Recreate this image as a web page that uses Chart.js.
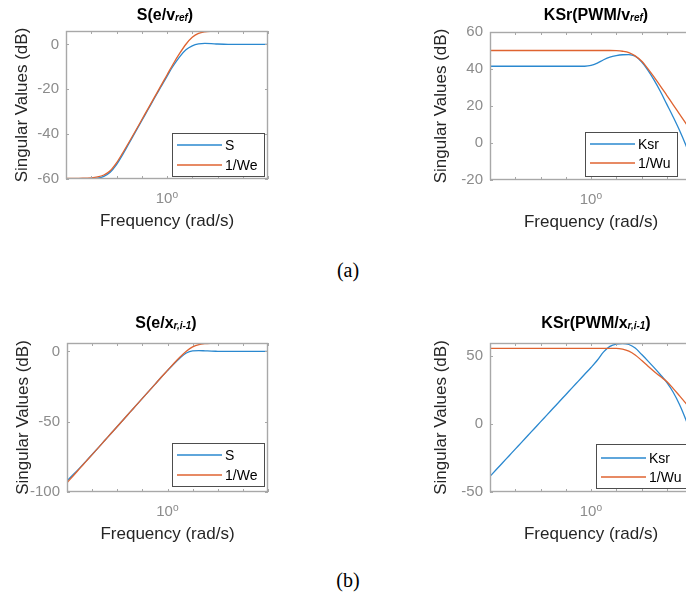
<!DOCTYPE html>
<html><head><meta charset="utf-8">
<script src="https://cdn.jsdelivr.net/npm/chart.js@4.4.1/dist/chart.umd.min.js"></script>
<style>
html,body{margin:0;padding:0;width:686px;height:595px;overflow:hidden;background:#fff;}
body{position:relative;}
canvas{position:absolute;}
.title{position:absolute;font:bold 16px "Liberation Sans",Arial,sans-serif;color:#000;white-space:nowrap;transform:translateX(-50%);line-height:20px;}
.title span{font-size:10px;font-style:italic;position:relative;top:1px;}
.cap{position:absolute;font:20px "Liberation Serif","DejaVu Serif",serif;color:#000;transform:translateX(-50%);line-height:24px;}
</style></head><body>
<canvas id="c1"></canvas><canvas id="c2"></canvas><canvas id="c3"></canvas><canvas id="c4"></canvas>
<div class="title" style="left:165px;top:5px">S(e/v<span>ref</span>)</div>
<div class="title" style="left:596px;top:5px">KSr(PWM/v<span>ref</span>)</div>
<div class="title" style="left:166px;top:313px">S(e/x<span>r,i-1</span>)</div>
<div class="title" style="left:596px;top:313px">KSr(PWM/x<span>r,i-1</span>)</div>
<div class="cap" style="left:348px;top:258px">(a)</div>
<div class="cap" style="left:348px;top:568px">(b)</div>
<script>
// Frequency grid (rad/s), quarter decades from 1e-4 to 1e4
const freq = [1e-4,1.778e-4,3.162e-4,5.623e-4,1e-3,1.778e-3,3.162e-3,5.623e-3,1e-2,1.778e-2,3.162e-2,5.623e-2,
  0.1,0.1778,0.3162,0.5623,1,1.778,3.162,5.623,10,17.78,31.62,56.23,100,177.8,316.2,562.3,1000,1778,3162,5623,10000];
const xTicks = [1e-4,1e-3,1e-2,1e-1,1,10,100,1000,10000];

// (a) left: S(e/v_ref)
const s1_S  = [-60.0,-60.0,-60.0,-60.0,-59.9,-59.6,-58.8,-57.0,-53.6,-49.0,-44.0,-39.0,-34.0,-29.0,-24.0,-19.1,-14.2,-9.5,-5.5,-2.4,-0.6,0.3,0.5,0.4,0.2,0.1,0.05,0,0,0,0,0,0];
const s1_We = [-59.7,-59.7,-59.7,-59.6,-59.5,-59.1,-58.2,-56.3,-52.8,-48.3,-43.5,-38.6,-33.6,-28.6,-23.6,-18.6,-13.6,-8.6,-4.0,0.1,3.2,4.9,5.6,5.85,5.95,6,6,6,6,6,6,6,6];
const yTicks1 = [-60,-40,-20,0];

// (a) right: KSr(PWM/v_ref)
const s2_Ksr = [41.5,41.5,41.5,41.5,41.5,41.5,41.5,41.5,41.5,41.5,41.5,41.5,41.5,41.5,41.5,41.5,41.9,43.2,45.0,46.4,47.2,47.7,47.8,46.9,43.9,39.4,34.0,27.8,21.0,14.2,7.0,-1.0,-10];
const s2_Wu  = [50,50,50,50,50,50,50,50,50,50,50,50,50,50,50,50,50,50,50,50,49.9,49.6,48.9,47.1,44.3,40.2,35.6,30.8,25.8,20.8,15.8,10.8,5.8];
const yTicks2 = [-20,0,20,40,60];

// (b) left: S(e/x_r,i-1)
const s3_S  = [-92.0,-87.6,-83.0,-78.2,-73.3,-68.4,-63.4,-58.4,-53.4,-48.4,-43.4,-38.4,-33.4,-28.4,-23.4,-18.4,-13.6,-8.9,-4.6,-1.1,0.4,0.6,0.4,0.2,0.1,0,0,0,0,0,0,0,0];
const s3_We = [-93.4,-88.4,-83.4,-78.4,-73.4,-68.4,-63.4,-58.4,-53.4,-48.4,-43.4,-38.4,-33.4,-28.4,-23.4,-18.4,-13.5,-8.6,-4.0,0.1,3.2,4.9,5.6,5.85,5.95,6,6,6,6,6,6,6,6];
const yTicks3 = [-100,-50,0];

// (b) right: KSr(PWM/x_r,i-1)
const s4_Ksr = [-38.5,-33.5,-28.5,-23.5,-18.5,-13.5,-8.5,-3.5,1.5,6.5,11.5,16.5,21.5,26.5,31.5,36.5,41.5,46.8,53.0,57.0,58.7,59.1,58.4,55.8,51.2,46.4,41.4,36.2,30.6,23.5,14.5,3.5,-9];
const s4_Wu  = [55.6,55.6,55.6,55.6,55.6,55.6,55.6,55.6,55.6,55.6,55.6,55.6,55.6,55.6,55.6,55.6,55.6,55.6,55.6,55.6,55.6,55.0,53.5,50.7,46.8,42.6,38.6,34.8,31.2,26.2,20.8,15.3,9.5];
const yTicks4 = [-50,0,50];

const BLUE = '#2a88cf', ORANGE = '#df6330';
const FONT = '"Liberation Sans", Arial, "DejaVu Sans", sans-serif';

const boxPlugin = {
  id: 'boxTicks',
  afterDatasetsDraw(chart, args, opts) {
    const {ctx, chartArea: a} = chart;
    const xs = chart.scales.x, ys = chart.scales.y;
    ctx.save();
    ctx.strokeStyle = '#a8a8a8';
    ctx.lineWidth = 1;
    const L = 3;
    ctx.beginPath();
    xs.ticks.forEach(t => {
      const px = Math.round(xs.getPixelForValue(t.value)) + 0.5;
      ctx.moveTo(px, a.bottom); ctx.lineTo(px, a.bottom - L);
      ctx.moveTo(px, a.top); ctx.lineTo(px, a.top + L);
    });
    ys.ticks.forEach(t => {
      const py = Math.round(ys.getPixelForValue(t.value)) + 0.5;
      ctx.moveTo(a.left, py); ctx.lineTo(a.left + L, py);
      ctx.moveTo(a.right, py); ctx.lineTo(a.right - L, py);
    });
    ctx.stroke();
    ctx.lineWidth = 1.4;
    ctx.strokeRect(a.left + 0.5, a.top + 0.5, a.right - a.left - 1, a.bottom - a.top - 1);
    // legend inside axes
    const lg = opts.legend;
    if (lg) {
      const bx = a.left + lg.dx, by = a.top + lg.dy;
      ctx.fillStyle = '#fff';
      ctx.fillRect(bx, by, lg.w, lg.h);
      ctx.strokeStyle = '#4d4d4d';
      ctx.lineWidth = 1;
      ctx.strokeRect(bx + 0.5, by + 0.5, lg.w, lg.h);
      ctx.font = '14px ' + FONT;
      ctx.textBaseline = 'middle';
      ctx.textAlign = 'left';
      chart.data.datasets.forEach((ds, i) => {
        const ry = by + lg.rows[i];
        ctx.strokeStyle = ds.borderColor;
        ctx.lineWidth = ds.borderWidth;
        ctx.beginPath();
        ctx.moveTo(bx + 5, ry); ctx.lineTo(bx + 50, ry);
        ctx.stroke();
        ctx.fillStyle = '#000';
        ctx.fillText(ds.label, bx + 53, ry + 1);
      });
    }
    ctx.restore();
  }
};

function makeChart(id, cfg) {
  const g = cfg.geom;
  const PT = 16, PR = 10, H = 57;
  const cv = document.getElementById(id);
  const w = g.W + (g.r - g.l) + PR, h = PT + (g.b - g.t) + H;
  cv.width = w; cv.height = h;
  cv.style.width = w + 'px'; cv.style.height = h + 'px';
  cv.style.left = (g.l - g.W) + 'px'; cv.style.top = (g.t - PT) + 'px';
  new Chart(cv, {
    type: 'line',
    data: {
      datasets: cfg.series.map(s => ({
        label: s.label,
        data: freq.map((f, i) => ({x: f, y: s.values[i]})),
        borderColor: s.color, backgroundColor: s.color,
        borderWidth: 1.3, pointRadius: 0, fill: false,
        cubicInterpolationMode: 'monotone', order: s.order
      }))
    },
    options: {
      responsive: false, animation: false, devicePixelRatio: 1,
      layout: {padding: {top: PT, right: PR, left: 0, bottom: 0}},
      plugins: {legend: {display: false}, tooltip: {enabled: false}, boxTicks: {legend: cfg.legend}},
      scales: {
        x: {
          type: 'logarithmic', min: 1e-4, max: 1e4,
          afterBuildTicks: s => { s.ticks = xTicks.map(v => ({value: v})); },
          afterFit: s => { s.height = H; },
          grid: {display: false, drawTicks: false}, border: {display: false},
          ticks: {autoSkip: false, maxRotation: 0, padding: 11, color: '#8c8c8c',
            font: {size: 15, family: FONT}, callback: v => (v === 1 ? '10\u2070' : '')},
          title: {display: true, text: 'Frequency (rad/s)', color: '#262626',
            font: {size: 17, family: FONT}, padding: {top: 4, bottom: 4}}
        },
        y: {
          type: 'linear', min: cfg.ymin, max: cfg.ymax,
          afterBuildTicks: s => { s.ticks = cfg.yticks.map(v => ({value: v})); },
          afterFit: s => { s.width = g.W; },
          grid: {display: false, drawTicks: false}, border: {display: false},
          ticks: {padding: 7, color: '#8c8c8c', font: {size: 15, family: FONT},
            callback: v => String(v)},
          title: {display: true, text: 'Singular Values (dB)', color: '#262626',
            font: {size: 17, family: FONT}, padding: {top: 4, bottom: 4}}
        }
      }
    },
    plugins: [boxPlugin]
  });
}

makeChart('c1', {
  geom: {l: 66, t: 31, r: 269, b: 179, W: 58},
  ymin: -60, ymax: 6, yticks: yTicks1,
  series: [{label: 'S', values: s1_S, color: BLUE, order: 1}, {label: '1/We', values: s1_We, color: ORANGE, order: 0}],
  legend: {dx: 106, dy: 102, w: 92, h: 43, rows: [12, 32]}
});
makeChart('c2', {
  geom: {l: 490, t: 32, r: 693, b: 180, W: 63},
  ymin: -20, ymax: 60, yticks: yTicks2,
  series: [{label: 'Ksr', values: s2_Ksr, color: BLUE, order: 1}, {label: '1/Wu', values: s2_Wu, color: ORANGE, order: 0}],
  legend: {dx: 95, dy: 100, w: 92, h: 44, rows: [12, 31]}
});
makeChart('c3', {
  geom: {l: 67, t: 343, r: 269, b: 492, W: 58},
  ymin: -100, ymax: 6, yticks: yTicks3,
  series: [{label: 'S', values: s3_S, color: BLUE, order: 1}, {label: '1/We', values: s3_We, color: ORANGE, order: 0}],
  legend: {dx: 105, dy: 100, w: 92, h: 43, rows: [12, 32]}
});
makeChart('c4', {
  geom: {l: 490, t: 343, r: 693, b: 492, W: 63},
  ymin: -50, ymax: 59.5, yticks: yTicks4,
  series: [{label: 'Ksr', values: s4_Ksr, color: BLUE, order: 1}, {label: '1/Wu', values: s4_Wu, color: ORANGE, order: 0}],
  legend: {dx: 106, dy: 101, w: 100, h: 44, rows: [14, 33]}
});
</script>
</body></html>
